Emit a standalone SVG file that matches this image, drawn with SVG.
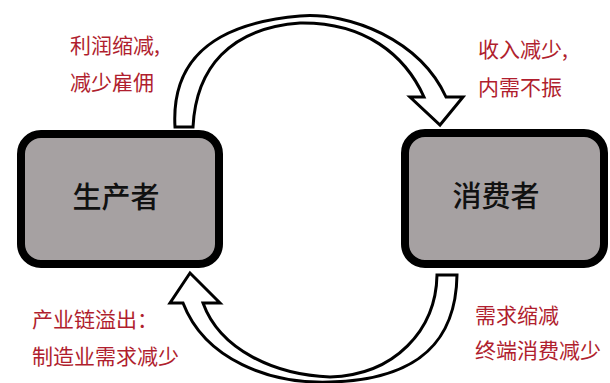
<svg xmlns="http://www.w3.org/2000/svg" width="610" height="383" viewBox="0 0 610 383">
<style>
.box{fill:#a6a1a2;stroke:#000;stroke-width:8}
.node{font-family:"Noto Sans CJK SC","Noto Sans",sans-serif;font-size:29px;font-weight:500;fill:#111;text-anchor:middle}
.lbl{font-family:"Noto Sans CJK SC","Noto Sans",sans-serif;font-size:21px;fill:#b01e2e}
.arrow{fill:#fff;stroke:#000;stroke-width:3;stroke-linejoin:miter}
</style>
<rect width="610" height="383" fill="#fff"/>
<g id="connectors">
<path class="arrow" d="M175,127 C172,75 195,25 300,16 C350,12 420,40 446,97 L463,97 L440,125 L410,97 L424,97 C405,55 365,22 300,23 C230,28 196,68 193,127 Z"/>
<path class="arrow" d="M437,275 L457,275 C456,340 420,380 330,382 C270,384 205,360 183,303 L170,303 L190,273 L220,303 L203,303 C220,350 275,375 330,377 C395,375 436,330 437,275 Z"/>
</g>
<g id="producer">
<rect class="box" x="21" y="134" width="198" height="130" rx="20"/>
<text class="node" x="116" y="208">生产者</text>
</g>
<g id="consumer">
<rect class="box" x="405" y="133" width="199" height="131" rx="20"/>
<text class="node" x="496" y="207">消费者</text>
</g>
<g id="labels">
<text class="lbl" x="70" y="53">利润缩减,</text>
<text class="lbl" x="70" y="90">减少雇佣</text>
<text class="lbl" x="478" y="57">收入减少,</text>
<text class="lbl" x="478" y="95">内需不振</text>
<text class="lbl" x="32" y="327">产业链溢出：</text>
<text class="lbl" x="32" y="364">制造业需求减少</text>
<text class="lbl" x="475" y="323">需求缩减</text>
<text class="lbl" x="475" y="358">终端消费减少</text>
</g>
</svg>
